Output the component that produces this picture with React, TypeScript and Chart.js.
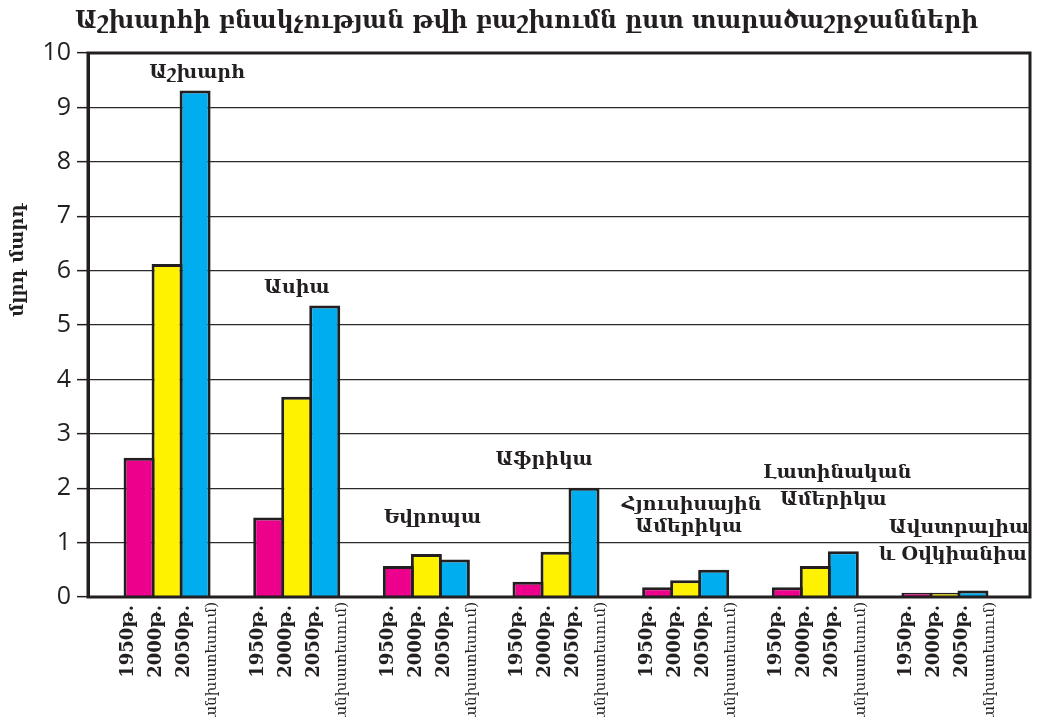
import React, { useEffect, useRef } from 'react';
import { Chart, registerables } from 'chart.js';

Chart.register(...registerables);

const chartTitle = 'Աշխարհի բնակչության թվի բաշխումն ըստ տարածաշրջանների';
const yAxisTitle = 'մլրդ մարդ';
const regionNames: string[][] = [
  ['Աշխարհ'],
  ['Ասիա'],
  ['Եվրոպա'],
  ['Աֆրիկա'],
  ['Հյուսիսային', 'Ամերիկա'],
  ['Լատինական', 'Ամերիկա'],
  ['Ավստրալիա', 'և Օվկիանիա'],
];
const yearLabels = ['1950թ.', '2000թ.', '2050թ.'];
const forecastNote = '(կանխատեսում)';
const pop1950 = [2.56, 1.46, 0.57, 0.28, 0.18, 0.18, 0.08];
const pop2000 = [6.12, 3.68, 0.79, 0.83, 0.31, 0.57, 0.08];
const pop2050 = [9.31, 5.36, 0.69, 2.01, 0.5, 0.84, 0.12];
const yTickValues = [0, 1, 2, 3, 4, 5, 6, 7, 8, 9, 10];
const groupIndex = [0, 1, 2, 3, 4, 5, 6];

// label placement: per region, per line [x offset px from group centre, y in data units]
const regionLabelPlace: number[][][] = [
  [[30, 9.63]],
  [[0, 5.68]],
  [[6, 1.45]],
  [[-12, 2.52]],
  [[6, 1.69], [3, 1.29]],
  [[22, 2.28], [18, 1.78]],
  [[14, 1.27], [8, 0.77]],
];

const INK = '#231F20';
const barColors = ['#EC008C', '#FFF200', '#00AEEF'];
const SERIF = '"DejaVu Serif", serif';

const overlay = {
  id: 'overlay',
  afterDatasetsDraw(chart: any) {
    const { ctx, chartArea: a, scales } = chart;
    const yScale = scales.y;
    ctx.save();
    // frame
    ctx.strokeStyle = INK;
    ctx.lineWidth = 3;
    ctx.strokeRect(a.left, a.top, a.right - a.left, a.bottom - a.top);

    ctx.fillStyle = INK;
    // title
    ctx.font = `bold 23.5px ${SERIF}`;
    ctx.textAlign = 'left';
    ctx.textBaseline = 'middle';
    ctx.fillText(chartTitle, 75, 22);

    // y-axis title
    ctx.save();
    ctx.translate(18, (a.top + a.bottom) / 2 - 65);
    ctx.rotate(-Math.PI / 2);
    ctx.font = `bold 18px ${SERIF}`;
    ctx.textAlign = 'center';
    ctx.textBaseline = 'middle';
    ctx.fillText(yAxisTitle, 0, 0);
    ctx.restore();

    const metas = [0, 1, 2].map((i) => chart.getDatasetMeta(i));
    const labelTop = a.bottom + 8;
    for (let g = 0; g < regionNames.length; g++) {
      // year labels
      for (let d = 0; d < 3; d++) {
        const bx = metas[d].data[g].x - 10.5;
        ctx.save();
        ctx.translate(bx, labelTop);
        ctx.rotate(-Math.PI / 2);
        ctx.font = `bold 18px ${SERIF}`;
        ctx.textAlign = 'right';
        ctx.textBaseline = 'middle';
        ctx.fillText(yearLabels[d], 0, 0);
        ctx.restore();
      }
      const step = metas[2].data[g].x - metas[1].data[g].x;
      const fx = metas[2].data[g].x + step - 10.5;
      ctx.save();
      ctx.translate(fx, labelTop - 3);
      ctx.rotate(-Math.PI / 2);
      ctx.font = `15px ${SERIF}`;
      ctx.textAlign = 'right';
      ctx.textBaseline = 'middle';
      ctx.fillText(forecastNote, 0, 0);
      ctx.restore();

      // region labels
      const cx = metas[1].data[g].x;
      ctx.font = `bold 19px ${SERIF}`;
      ctx.textAlign = 'center';
      ctx.textBaseline = 'middle';
      regionNames[g].forEach((line, li) => {
        const [dx, yv] = regionLabelPlace[g][li];
        ctx.fillText(line, cx + dx, yScale.getPixelForValue(yv));
      });
    }
    ctx.restore();
  },
};

export default function App() {
  const ref = useRef<HTMLCanvasElement>(null);
  useEffect(() => {
    document.body.style.margin = '0';
    const canvas = ref.current!;
    const toPoints = (arr: number[]) => arr.map((v, i) => ({ x: groupIndex[i], y: v }));
    const chart = new Chart(canvas, {
      type: 'bar',
      data: {
        datasets: [pop1950, pop2000, pop2050].map((arr, i) => ({
          label: yearLabels[i],
          data: toPoints(arr),
          backgroundColor: barColors[i],
          borderColor: INK,
          borderWidth: 3,
          borderSkipped: 'bottom',
          categoryPercentage: 84 / 129.6,
          barPercentage: 31 / 28,
        })),
      },
      options: {
        responsive: false,
        animation: false,
        devicePixelRatio: 1,
        layout: { padding: { top: 53, bottom: 120, left: 0, right: 9 } },
        plugins: { legend: { display: false }, tooltip: { enabled: false }, title: { display: false } },
        scales: {
          x: {
            type: 'linear',
            min: -0.61,
            max: 6.656,
            offset: false,
            display: false,
            afterBuildTicks: (scale: any) => {
              scale.ticks = groupIndex.map((v) => ({ value: v }));
            },
          },
          y: {
            min: 0,
            max: 10,
            afterFit: (scale: any) => {
              scale.width = 88;
            },
            afterBuildTicks: (scale: any) => {
              scale.ticks = yTickValues.map((v) => ({ value: v }));
            },
            ticks: {
              color: INK,
              padding: 6,
              font: { family: '"Open Sans", sans-serif', size: 25 },
            },
            grid: {
              color: '#2a2a2a',
              lineWidth: 1.3,
              tickLength: 11,
              tickColor: INK,
              tickWidth: 1.5,
            },
            border: { display: true, color: INK, width: 3 },
          },
        },
      },
      plugins: [overlay],
    } as any);
    return () => chart.destroy();
  }, []);
  return (
    <div style={{ position: 'fixed', left: 0, top: 0, width: 1039, height: 717, background: '#fff' }}>
      <canvas ref={ref} width={1039} height={717} style={{ display: 'block' }} />
    </div>
  );
}
